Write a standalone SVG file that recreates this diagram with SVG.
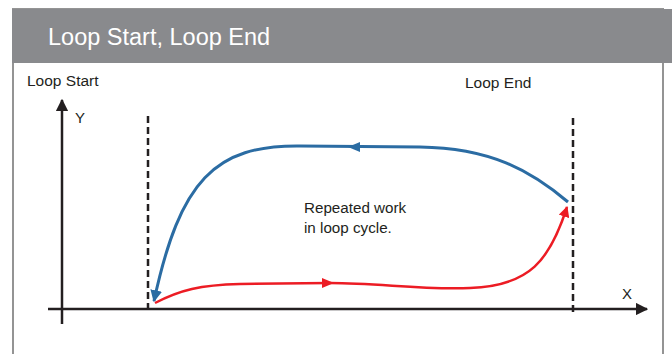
<svg xmlns="http://www.w3.org/2000/svg" width="672" height="354" viewBox="0 0 672 354">
<style>
.t{font-family:"Liberation Sans",Arial,sans-serif;fill:#231f20}
.ax{stroke:#231f20;stroke-width:2.5;fill:none}
.dash{stroke:#231f20;stroke-width:2.5;stroke-dasharray:7,4;fill:none}
.blue{stroke:#2b6ca3;stroke-width:3;fill:none}
.red{stroke:#ec1c24;stroke-width:2.5;fill:none}
</style>
<defs>
<marker id="ab" viewBox="0 0 10 10" refX="9" refY="5" markerWidth="4" markerHeight="4" orient="auto" markerUnits="strokeWidth"><path d="M0,0 L10,5 L0,10 z" fill="#2b6ca3"/></marker>
<marker id="ar" viewBox="0 0 10 10" refX="9" refY="5" markerWidth="4.4" markerHeight="4.4" orient="auto" markerUnits="strokeWidth"><path d="M0,0 L10,5 L0,10 z" fill="#ec1c24"/></marker>
<marker id="ak" viewBox="0 0 10 10" refX="9" refY="5" markerWidth="5" markerHeight="5" orient="auto" markerUnits="strokeWidth"><path d="M0,0 L10,5 L0,10 z" fill="#231f20"/></marker>
</defs>
<rect x="0" y="0" width="672" height="354" fill="#ffffff"/>
<g id="panel">
<rect x="13" y="9" width="650" height="360" fill="#ffffff" stroke="#949494" stroke-width="2"/>
<rect x="12" y="9" width="660" height="54" fill="#898a8d"/>
<text x="48" y="45" font-size="23.5" fill="#ffffff" style="font-family:'Liberation Sans',Arial,sans-serif">Loop Start, Loop End</text>
</g>
<g id="labels">
<text class="t" x="27" y="86" font-size="15.5">Loop Start</text>
<text class="t" x="465" y="88" font-size="15.5">Loop End</text>
<text class="t" x="75" y="123" font-size="15">Y</text>
<text class="t" x="622" y="299" font-size="15">X</text>
<text class="t" x="304" y="213" font-size="15.2">Repeated work</text>
<text class="t" x="304" y="233" font-size="15.2">in loop cycle.</text>
</g>
<g id="axes">
<line class="ax" x1="62" y1="324" x2="62" y2="100" marker-end="url(#ak)"/>
<line class="ax" x1="48" y1="309" x2="647" y2="309" marker-end="url(#ak)"/>
<line class="dash" x1="148" y1="116" x2="148" y2="309"/>
<line class="dash" x1="573" y1="118" x2="573" y2="312"/>
</g>
<g id="connectors">
<path class="blue" d="M568,202 C530,170 490,148 420,147 L300,146 C215,145 180,180 154,301" marker-end="url(#ab)"/>
<polygon points="348,147 360,142 360,152" fill="#2b6ca3"/>
<path class="red" d="M155,303 C180,290 200,285 240,284 L330,283 C380,283 420,290 470,288 C530,286 550,260 567,207" marker-end="url(#ar)"/>
<polygon points="334,283 322,278 322,288" fill="#ec1c24"/>
</g>
</svg>
